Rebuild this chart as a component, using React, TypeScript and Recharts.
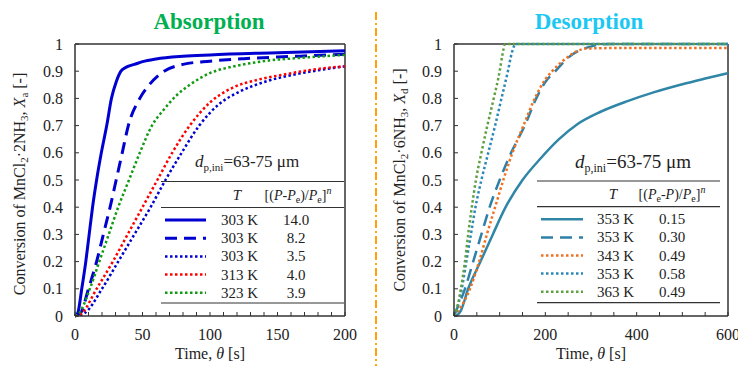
import React from 'react';
import { LineChart, Line, XAxis, YAxis, ReferenceLine } from 'recharts';

const FONT = '"Liberation Serif", "Times New Roman", serif';

// shared y ticks (conversion)
const convTicks = [0, 0.1, 0.2, 0.3, 0.4, 0.5, 0.6, 0.7, 0.8, 0.9, 1];

// Absorption panel, time [s]
const absTimeTicks = [0, 10, 20, 30, 40, 50, 60, 70, 80, 90, 100, 110, 120, 130, 140, 150, 160, 170, 180, 190, 200];

const abs303aT = [0, 2, 5, 8, 10.5, 13, 16, 19.5, 23.5, 27, 30.5, 34, 38, 44, 50, 60, 80, 100, 150, 200];
const abs303aX = [0, 0.01, 0.1, 0.2, 0.3, 0.4, 0.5, 0.6, 0.7, 0.8, 0.86, 0.9, 0.915, 0.925, 0.935, 0.945, 0.955, 0.96, 0.968, 0.975];

const abs303bT = [0, 4, 10, 16, 21, 26, 30.5, 35, 39.5, 48, 55, 66, 80, 100, 125, 150, 175, 200];
const abs303bX = [0, 0.01, 0.1, 0.2, 0.3, 0.4, 0.5, 0.6, 0.7, 0.8, 0.85, 0.9, 0.925, 0.937, 0.946, 0.952, 0.957, 0.962];

const abs303cT = [0, 7, 20, 32, 44, 56, 67, 79, 92, 107, 122, 140, 167, 185, 200];
const abs303cX = [0, 0.01, 0.1, 0.2, 0.3, 0.4, 0.5, 0.6, 0.7, 0.78, 0.825, 0.86, 0.892, 0.907, 0.918];

const abs313T = [0, 5, 16, 28, 39, 50, 61, 72, 85, 100, 117, 135, 155, 175, 200];
const abs313X = [0, 0.01, 0.1, 0.2, 0.3, 0.4, 0.5, 0.6, 0.7, 0.785, 0.84, 0.868, 0.888, 0.905, 0.918];

const abs323T = [0, 3, 11, 18, 25, 32, 40, 48, 57, 66, 75, 85, 100, 120, 140, 170, 200];
const abs323X = [0, 0.01, 0.1, 0.2, 0.3, 0.4, 0.5, 0.6, 0.7, 0.76, 0.81, 0.85, 0.893, 0.92, 0.937, 0.95, 0.96];

// Desorption panel, time [s]
const desTimeTicks = [0, 50, 100, 150, 200, 250, 300, 350, 400, 450, 500, 550, 600];

const des353aT = [0, 8, 15, 31, 58, 85, 113, 150, 190, 230, 270, 320, 380, 437, 500, 550, 600];
const des353aX = [0, 0.005, 0.02, 0.1, 0.2, 0.3, 0.4, 0.5, 0.58, 0.65, 0.705, 0.75, 0.79, 0.822, 0.852, 0.873, 0.893];

const des353bT = [0, 5, 24, 42, 60, 78, 100, 125, 155, 180, 200, 222, 250, 280, 310, 340, 600];
const des353bX = [0, 0.02, 0.1, 0.2, 0.3, 0.4, 0.5, 0.6, 0.7, 0.8, 0.86, 0.9, 0.95, 0.98, 0.995, 1, 1];

const des343T = [0, 5, 35, 55, 72, 90, 108, 128, 152, 177, 200, 215, 240, 265, 290, 350, 600];
const des343X = [0, 0.01, 0.1, 0.2, 0.3, 0.4, 0.5, 0.6, 0.7, 0.8, 0.87, 0.9, 0.94, 0.97, 0.983, 0.985, 0.985];

const des353cT = [0, 3, 17, 27, 37, 47, 60, 75, 90, 104, 118, 127, 135, 600];
const des353cX = [0, 0.01, 0.1, 0.2, 0.3, 0.4, 0.5, 0.6, 0.7, 0.8, 0.9, 0.97, 1, 1];

const des363T = [0, 3, 15, 24, 31, 39, 48, 60, 73, 87, 100, 106, 112, 600];
const des363X = [0, 0.01, 0.1, 0.2, 0.3, 0.4, 0.5, 0.6, 0.7, 0.8, 0.9, 0.96, 1, 1];

// legend table text
const absTemps = ['303 K', '303 K', '303 K', '313 K', '323 K'];
const absDrive = ['14.0', '8.2', '3.5', '4.0', '3.9'];
const desTemps = ['353 K', '353 K', '343 K', '353 K', '363 K'];
const desDrive = ['0.15', '0.30', '0.49', '0.58', '0.49'];

const toPoints = (t: number[], x: number[]) => t.map((v, i) => ({ t: v, x: x[i] }));

type Style = { color: string; width: number; dash?: string };

const DOT = '2.5 2.5';
const DASH = '12 7';

const absStyles: Style[] = [
  { color: '#0000d0', width: 3 },
  { color: '#0000d0', width: 3, dash: DASH },
  { color: '#0000d0', width: 2.5, dash: DOT },
  { color: '#ff0000', width: 2.5, dash: DOT },
  { color: '#129a12', width: 2.5, dash: DOT },
];
const desStyles: Style[] = [
  { color: '#2f86a6', width: 2.5 },
  { color: '#2f80a8', width: 2.5, dash: DASH },
  { color: '#f07020', width: 2.5, dash: DOT },
  { color: '#2a88b8', width: 2.5, dash: DOT },
  { color: '#5ea040', width: 2.5, dash: DOT },
];

const absSeries = [
  toPoints(abs303aT, abs303aX),
  toPoints(abs303bT, abs303bX),
  toPoints(abs303cT, abs303cX),
  toPoints(abs313T, abs313X),
  toPoints(abs323T, abs323X),
];
const desSeries = [
  toPoints(des353aT, des353aX),
  toPoints(des353bT, des353bX),
  toPoints(des343T, des343X),
  toPoints(des353cT, des353cX),
  toPoints(des363T, des363X),
];

const AXIS = '#333';
const tickStyle = { fontSize: 16, fill: '#222', fontFamily: FONT };
const fmtY = (v: number) => (v === 0 || v === 1 ? String(v) : v.toFixed(1));

function Panel({ left, width, marginRight, max, ticks, labelEvery, series, styles }: {
  left: number; width: number; marginRight: number; max: number; ticks: number[];
  labelEvery: number; series: { t: number; x: number }[][]; styles: Style[];
}) {
  return (
    <div style={{ position: 'absolute', left, top: 0 }}>
      <LineChart width={width} height={366} margin={{ top: 44, right: marginRight, left: 0, bottom: 0 }}>
        <XAxis
          type="number"
          dataKey="t"
          domain={[0, max]}
          ticks={ticks}
          interval={0}
          height={50}
          tickSize={-4}
          tickMargin={17}
          tickFormatter={(v: number) => (v % labelEvery === 0 ? String(v) : '')}
          tick={tickStyle}
          axisLine={{ stroke: AXIS, strokeWidth: 1.5 }}
          tickLine={{ stroke: AXIS }}
        />
        <YAxis
          type="number"
          domain={[0, 1]}
          ticks={convTicks}
          interval={0}
          width={75}
          tickSize={-4}
          tickMargin={16}
          tickFormatter={fmtY}
          tick={tickStyle}
          axisLine={{ stroke: AXIS, strokeWidth: 1.5 }}
          tickLine={{ stroke: AXIS }}
        />
        <ReferenceLine y={1} stroke={AXIS} strokeWidth={1.5} />
        <ReferenceLine x={max} stroke={AXIS} strokeWidth={1.5} />
        {series.map((d, i) => (
          <Line
            key={i}
            data={d}
            dataKey="x"
            type="monotone"
            stroke={styles[i].color}
            strokeWidth={styles[i].width}
            strokeDasharray={styles[i].dash}
            dot={false}
            activeDot={false}
            isAnimationActive={false}
          />
        ))}
      </LineChart>
    </div>
  );
}

function Table({ x1, x2, top, headerLine, bottom, tX, headX, headY, rowY0, rowStep, sampleX1, sampleX2, tempX, valX, temps, vals, styles, desorb }: {
  x1: number; x2: number; top: number; headerLine: number; bottom: number; tX: number; headX: number; headY: number;
  rowY0: number; rowStep: number; sampleX1: number; sampleX2: number; tempX: number; valX: number;
  temps: string[]; vals: string[]; styles: Style[]; desorb: boolean;
}) {
  return (
    <g fontFamily={FONT} fill="#222">
      <line x1={x1} x2={x2} y1={top} y2={top} stroke="#333" strokeWidth={1.2} />
      <line x1={x1} x2={x2} y1={headerLine} y2={headerLine} stroke="#333" strokeWidth={1.2} />
      <line x1={x1} x2={x2} y1={bottom} y2={bottom} stroke="#333" strokeWidth={1.2} />
      <text x={tX} y={headY} fontSize={15} fontStyle="italic" textAnchor="middle">T</text>
      {desorb ? (
        <text x={headX} y={headY} fontSize={14} textAnchor="middle">
          [(<tspan fontStyle="italic">P</tspan>
          <tspan fontSize={10} dy={3}>e</tspan>
          <tspan dy={-3}>-</tspan>
          <tspan fontStyle="italic">P</tspan>)/<tspan fontStyle="italic">P</tspan>
          <tspan fontSize={10} dy={3}>e</tspan>
          <tspan dy={-3}>]</tspan>
          <tspan fontSize={10} dy={-6} fontStyle="italic">n</tspan>
        </text>
      ) : (
        <text x={headX} y={headY} fontSize={14} textAnchor="middle">
          [(<tspan fontStyle="italic">P</tspan>-<tspan fontStyle="italic">P</tspan>
          <tspan fontSize={10} dy={3}>e</tspan>
          <tspan dy={-3}>)/</tspan>
          <tspan fontStyle="italic">P</tspan>
          <tspan fontSize={10} dy={3}>e</tspan>
          <tspan dy={-3}>]</tspan>
          <tspan fontSize={10} dy={-6} fontStyle="italic">n</tspan>
        </text>
      )}
      {temps.map((tp, i) => {
        const y = rowY0 + i * rowStep;
        const s = styles[i];
        return (
          <g key={i}>
            <line x1={sampleX1} x2={sampleX2} y1={y} y2={y} stroke={s.color} strokeWidth={s.width} strokeDasharray={s.dash} />
            <text x={tempX} y={y + 5} fontSize={15}>{tp}</text>
            <text x={valX} y={y + 5} fontSize={15} textAnchor="middle">{vals[i]}</text>
          </g>
        );
      })}
    </g>
  );
}

function Overlay() {
  return (
    <svg width={738} height={366} style={{ position: 'absolute', left: 0, top: 0, pointerEvents: 'none' }}>
      <text x={209} y={29} fontFamily={FONT} fontSize={23} fontWeight="bold" fill="#00b050" textAnchor="middle">Absorption</text>
      <text x={589} y={29} fontFamily={FONT} fontSize={23} fontWeight="bold" fill="#1cc8f2" textAnchor="middle">Desorption</text>
      <line x1={376} x2={376} y1={12} y2={366} stroke="#ffa500" strokeWidth={2} strokeDasharray="8 3 2 3" />

      <text transform="translate(25,184) rotate(-90)" fontFamily={FONT} fontSize={16} fill="#222" textAnchor="middle">
        Conversion of MnCl<tspan fontSize={11} dy={3}>2</tspan>
        <tspan dy={-3}>·2NH</tspan>
        <tspan fontSize={11} dy={3}>3</tspan>
        <tspan dy={-3}>, </tspan>
        <tspan fontStyle="italic">X</tspan>
        <tspan fontSize={11} dy={3}>a</tspan>
        <tspan dy={-3}> [-]</tspan>
      </text>
      <text transform="translate(405,180) rotate(-90)" fontFamily={FONT} fontSize={16} fill="#222" textAnchor="middle">
        Conversion of MnCl<tspan fontSize={11} dy={3}>2</tspan>
        <tspan dy={-3}>·6NH</tspan>
        <tspan fontSize={11} dy={3}>3</tspan>
        <tspan dy={-3}>, </tspan>
        <tspan fontStyle="italic">X</tspan>
        <tspan fontSize={11} dy={3}>d</tspan>
        <tspan dy={-3}> [-]</tspan>
      </text>

      <text x={210} y={359} fontFamily={FONT} fontSize={16} fill="#222" textAnchor="middle">
        Time, <tspan fontStyle="italic">θ</tspan> [s]
      </text>
      <text x={591} y={359} fontFamily={FONT} fontSize={16} fill="#222" textAnchor="middle">
        Time, <tspan fontStyle="italic">θ</tspan> [s]
      </text>

      <text x={195} y={167} fontFamily={FONT} fontSize={17} fill="#222">
        <tspan fontStyle="italic">d</tspan>
        <tspan fontSize={11} dy={4}>p,ini</tspan>
        <tspan dy={-4}>=63-75 μm</tspan>
      </text>
      <text x={575} y={168} fontFamily={FONT} fontSize={19} fill="#222">
        <tspan fontStyle="italic">d</tspan>
        <tspan fontSize={12} dy={4}>p,ini</tspan>
        <tspan dy={-4}>=63-75 μm</tspan>
      </text>

      <Table x1={161} x2={344} top={181.5} headerLine={207.5} bottom={303} tX={237} headX={298} headY={200}
        rowY0={220} rowStep={18.2} sampleX1={165} sampleX2={206} tempX={221} valX={296}
        temps={absTemps} vals={absDrive} styles={absStyles} desorb={false} />
      <Table x1={537} x2={720} top={181} headerLine={206.7} bottom={302.7} tX={613} headX={672} headY={199}
        rowY0={219.3} rowStep={18.1} sampleX1={541} sampleX2={583} tempX={597} valX={672}
        temps={desTemps} vals={desDrive} styles={desStyles} desorb={true} />
    </svg>
  );
}

export default function App() {
  return (
    <div style={{ position: 'absolute', left: 0, top: 0, width: 738, height: 366, background: '#fff', overflow: 'hidden' }}>
      <Panel left={0} width={370} marginRight={25} max={200} ticks={absTimeTicks} labelEvery={50} series={absSeries} styles={absStyles} />
      <Panel left={379} width={359} marginRight={10} max={600} ticks={desTimeTicks} labelEvery={200} series={desSeries} styles={desStyles} />
      <Overlay />
    </div>
  );
}
